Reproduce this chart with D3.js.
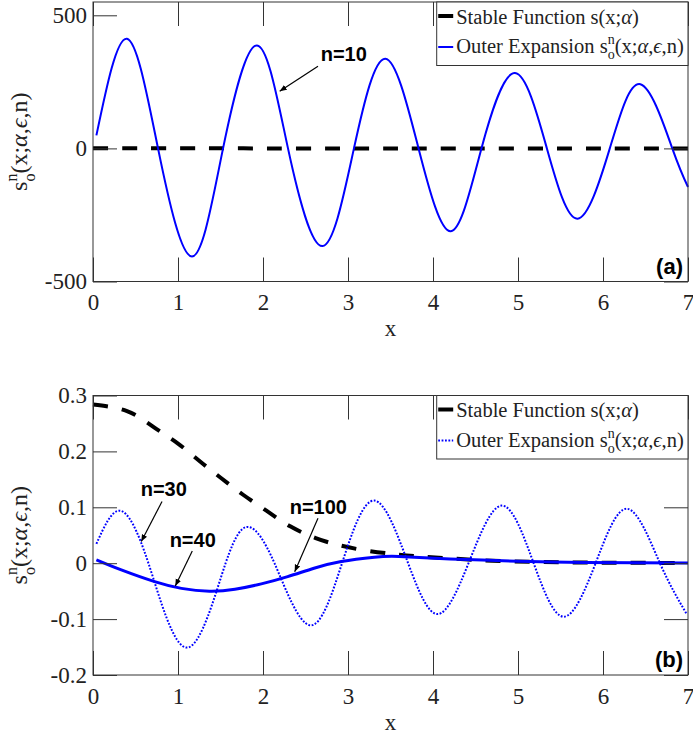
<!DOCTYPE html>
<html><head><meta charset="utf-8">
<script src="https://cdn.jsdelivr.net/npm/d3@7"></script>
<style>body{margin:0;background:#fff} svg{display:block}</style>
</head><body><svg id="c" width="693" height="734"></svg>
<script>
// ---------- data ----------
const xTicks = [0, 1, 2, 3, 4, 5, 6, 7];
const xTickLabels = ["0", "1", "2", "3", "4", "5", "6", "7"];
const yTicksA = [-500, 0, 500];
const yTickLabelsA = ["-500", "0", "500"];
const yTicksB = [-0.2, -0.1, 0, 0.1, 0.2, 0.3];
const yTickLabelsB = ["-0.2", "-0.1", "0", "0.1", "0.2", "0.3"];

// stable function s(x;alpha)
const stableX = [0, 0.4, 0.71, 1.0, 1.26, 1.51, 1.77, 2.04, 2.32, 2.62, 2.9, 3.2, 3.5, 3.8, 4.2, 4.7, 5.3, 6.0, 7.0];
const stableY = [0.284, 0.272, 0.244, 0.214, 0.182, 0.152, 0.122, 0.094, 0.066, 0.045, 0.032, 0.023, 0.017, 0.0125, 0.0085, 0.0045, 0.0022, 0.001, 0.0003];

// outer expansion n=10 (panel a)
const n10X = [0.04, 0.40, 0.765, 1.165, 1.53, 1.93, 2.294, 2.70, 3.07, 3.44, 3.83, 4.21, 4.57, 4.965, 5.34, 5.70, 6.08, 6.44, 6.815, 7.0];
const n10Y = [49, 412, 0, -406, 0, 387, 0, -367, 0, 337, 0, -311, 0, 283, 0, -264, 0, 241, 0, -145];

// outer expansion n=30 (panel b, dotted)
const n30X = [0.04, 0.314, 0.652, 1.11, 1.56, 1.84, 2.135, 2.55, 2.93, 3.31, 3.707, 4.055, 4.418, 4.81, 5.184, 5.54, 5.913, 6.286, 6.67, 6.985];
const n30Y = [0.0346, 0.094, 0, -0.151, 0, 0.0645, 0, -0.111, 0, 0.112, 0, -0.091, 0, 0.103, 0, -0.0957, 0, 0.0973, 0, -0.091];

// outer expansion n=40 / n=100 (panel b, solid, coincident)
const n40X = [0.04, 0.333, 0.725, 1.04, 1.37, 1.67, 1.98, 2.29, 2.6, 2.92, 3.31, 3.6, 4.2, 5.0, 5.78, 7.0];
const n40Y = [0.006, -0.012, -0.033, -0.045, -0.050, -0.0466, -0.037, -0.024, -0.009, 0.003, 0.0107, 0.012, 0.0077, 0.0036, 0.0013, 0.0003];

// ---------- drawing ----------
const svg = d3.select("#c");
const SERIF = "'Liberation Serif','Times New Roman',serif";
const SANS = "'Liberation Sans',Arial,sans-serif";
const AX = "#333";
const BLUE = "#0000ff";

svg.append("defs").append("marker")
  .attr("id", "arr").attr("viewBox", "0 0 10 10").attr("refX", 10).attr("refY", 5)
  .attr("markerWidth", 7).attr("markerHeight", 7).attr("markerUnits", "userSpaceOnUse")
  .attr("orient", "auto")
  .append("path").attr("d", "M0,1 L10,5 L0,9 Z").attr("fill", "#000");

const zip = (xs, ys) => xs.map((v, i) => [v, ys[i]]);

function ylabel(g, x, y) {
  const t = g.append("text").attr("transform", `translate(${x},${y}) rotate(-90)`)
    .attr("text-anchor", "middle").style("font-family", SERIF).attr("font-size", 24).attr("fill", "#222");
  t.append("tspan").text("s");
  t.append("tspan").attr("font-size", 16).attr("dy", -10).text("n");
  t.append("tspan").attr("font-size", 16).attr("dx", -8).attr("dy", 18).text("o");
  t.append("tspan").attr("dy", -8).text("(x;");
  t.append("tspan").attr("font-style", "italic").text("α");
  t.append("tspan").text(",");
  t.append("tspan").attr("font-style", "italic").text("ϵ");
  t.append("tspan").text(",n)");
}

function legend(g, left, top, right, outerStyle) {
  g.append("rect").attr("x", left).attr("y", top).attr("width", right - left).attr("height", 63.5)
    .attr("fill", "#fff").attr("stroke", AX).attr("stroke-width", 1);
  // entry 1
  g.append("line").attr("x1", left + 1.5).attr("x2", left + 16.5).attr("y1", top + 14).attr("y2", top + 14)
    .attr("stroke", "#000").attr("stroke-width", 4);
  const t1 = g.append("text").attr("x", left + 19.5).attr("y", top + 21.5)
    .style("font-family", SERIF).attr("font-size", 20.5).attr("fill", "#222");
  t1.append("tspan").text("Stable Function s(x;");
  t1.append("tspan").attr("font-style", "italic").text("α");
  t1.append("tspan").text(")");
  // entry 2
  const l2 = g.append("line").attr("x1", left + 1.5).attr("x2", left + 16.5).attr("y1", top + 45).attr("y2", top + 45)
    .attr("stroke", BLUE).attr("stroke-width", 2);
  if (outerStyle === "dot") l2.attr("stroke-dasharray", "1.8,1.6");
  const t2 = g.append("text").attr("x", left + 19.5).attr("y", top + 51)
    .style("font-family", SERIF).attr("font-size", 20.5).attr("fill", "#222");
  t2.append("tspan").text("Outer Expansion s");
  t2.append("tspan").attr("font-size", 14).attr("dy", -9).text("n");
  t2.append("tspan").attr("font-size", 14).attr("dx", -7).attr("dy", 15).text("o");
  t2.append("tspan").attr("dy", -6).text("(x;");
  t2.append("tspan").attr("font-style", "italic").text("α");
  t2.append("tspan").text(",");
  t2.append("tspan").attr("font-style", "italic").text("ϵ");
  t2.append("tspan").text(",n)");
}

function annotate(g, x, y, txt, tx, ty, fx, fy, toX, toY) {
  g.append("text").attr("x", x(tx)).attr("y", y(ty)).style("font-family", SANS)
    .attr("font-weight", "bold").attr("font-size", 20).attr("fill", "#000").text(txt);
  g.append("line").attr("x1", x(fx)).attr("y1", y(fy)).attr("x2", x(toX)).attr("y2", y(toY))
    .attr("stroke", "#000").attr("stroke-width", 1.2).attr("marker-end", "url(#arr)");
}

function panel(cfg) {
  const g = svg.append("g");
  const x = d3.scaleLinear().domain([0, 7]).range([93, 688]);
  const y = d3.scaleLinear().domain(cfg.ydom).range([cfg.bottom, cfg.top]);
  const L = 93, R = 688, T = cfg.top, B = cfg.bottom;

  const line = d3.line().x(d => x(d[0])).y(d => y(d[1])).curve(d3.curveNatural);
  cfg.draw(g, x, y, line);

  // axes with inward ticks on all sides
  const fmtX = (d, i) => xTickLabels[i];
  const fmtY = (d, i) => cfg.ylabels[i];
  const ax = [
    g.append("g").attr("transform", `translate(0,${B})`).call(d3.axisBottom(x).tickValues(xTicks).tickFormat(fmtX).tickSize(-24).tickSizeOuter(0).tickPadding(0)),
    g.append("g").attr("transform", `translate(0,${T})`).call(d3.axisTop(x).tickValues(xTicks).tickFormat("").tickSize(-24).tickSizeOuter(0)),
    g.append("g").attr("transform", `translate(${L},0)`).call(d3.axisLeft(y).tickValues(cfg.yticks).tickFormat(fmtY).tickSize(-24).tickSizeOuter(0).tickPadding(6)),
    g.append("g").attr("transform", `translate(${R},0)`).call(d3.axisRight(y).tickValues(cfg.yticks).tickFormat("").tickSize(-24).tickSizeOuter(0))
  ];
  ax.forEach(a => {
    a.attr("font-family", null).attr("font-size", null);
    a.select(".domain").remove();
    a.selectAll("line").attr("stroke", AX);
    a.selectAll("text").style("font-family", SERIF).attr("font-size", 23).attr("fill", "#222");
  });
  ax[0].selectAll("text").attr("dy", null).attr("y", 28.5);

  g.append("rect").attr("x", L).attr("y", T).attr("width", R - L).attr("height", B - T)
    .attr("fill", "none").attr("stroke", AX).attr("stroke-width", 1);

  legend(g, 436.7, T, R, cfg.outerStyle);

  g.append("text").attr("x", (L + R) / 2).attr("y", B + 54.5).attr("text-anchor", "middle")
    .style("font-family", SERIF).attr("font-size", 23).attr("fill", "#222").text("x");
  ylabel(g, 27, (T + B) / 2);

  g.append("text").attr("x", 683).attr("y", B - 8).attr("text-anchor", "end").style("font-family", SANS)
    .attr("font-weight", "bold").attr("font-size", 22).attr("fill", "#000").text(cfg.tag);

  cfg.notes(g, x, y);
}

panel({
  top: 2, bottom: 281.5, ydom: [-500, 550], yticks: yTicksA, ylabels: yTickLabelsA, tag: "(a)", outerStyle: "solid",
  draw: (g, x, y, line) => {
    g.append("path").attr("d", line(zip(stableX, stableY))).attr("fill", "none")
      .attr("stroke", "#000").attr("stroke-width", 4).attr("stroke-dasharray", "15,14");
    g.append("path").attr("d", line(zip(n10X, n10Y))).attr("fill", "none")
      .attr("stroke", BLUE).attr("stroke-width", 2);
  },
  notes: (g, x, y) => {
    annotate(g, x, y, "n=10", 2.679, 328, 2.647, 309, 2.196, 215);
  }
});

panel({
  top: 395.5, bottom: 675, ydom: [-0.2, 0.3], yticks: yTicksB, ylabels: yTickLabelsB, tag: "(b)", outerStyle: "dot",
  draw: (g, x, y, line) => {
    g.append("path").attr("d", line(zip(stableX, stableY))).attr("fill", "none")
      .attr("stroke", "#000").attr("stroke-width", 4).attr("stroke-dasharray", "15,14");
    g.append("path").attr("d", line(zip(n30X, n30Y))).attr("fill", "none")
      .attr("stroke", BLUE).attr("stroke-width", 2).attr("stroke-dasharray", "1.8,1.6");
    g.append("path").attr("d", line(zip(n40X, n40Y))).attr("fill", "none")
      .attr("stroke", BLUE).attr("stroke-width", 3);
  },
  notes: (g, x, y) => {
    annotate(g, x, y, "n=30", 0.561, 0.1194, 0.812, 0.1104, 0.568, 0.0387);
    annotate(g, x, y, "n=40", 0.902, 0.0297, 1.168, 0.022, 0.968, -0.0407);
    annotate(g, x, y, "n=100", 2.314, 0.0884, 2.647, 0.0806, 2.373, -0.0151);
  }
});
</script></body></html>
